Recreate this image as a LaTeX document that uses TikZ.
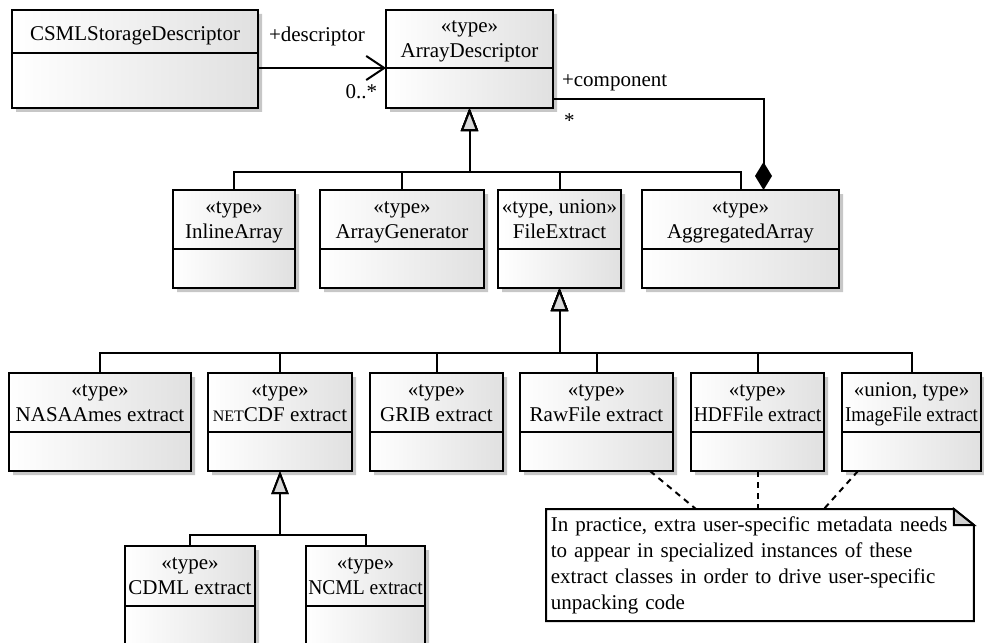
\documentclass[tikz,border=0pt]{standalone}
\usepackage{graphicx}
\usepackage{fontspec}
\setmainfont{Liberation Serif}
\usetikzlibrary{arrows.meta}
\usetikzlibrary{calc}
\usetikzlibrary{shadows}
\usetikzlibrary{shapes.multipart}

% class box: width, name part height, attribute part height, text
\newcommand{\classtext}[4]{%
  \parbox[c][#2][t]{#1}{\centering\rule{0pt}{11pt}#4}%
  \nodepart{second}\parbox[c][#3]{#1}{}}

\begin{document}
\begin{tikzpicture} [
        x = 0.5pt,
        y = -0.5pt,
        font = \fontsize{10.5}{12.5}\selectfont,
        umlclass/.style = {
          rectangle split,
          rectangle split parts = 2,
          draw,
          line width = 1pt,
          inner sep = 0pt,
          outer sep = 0pt,
          anchor = north west,
          left color = white,
          right color = black!12,
          drop shadow = {shadow xshift = 2pt, shadow yshift = -2pt,
                         fill = black!22, opacity = 1},
        },
        notebox/.style = {
          anchor = north west,
          align = left,
          text width = 209pt,
          inner xsep = 2.25pt,
          inner ysep = 3.5pt,
          font = \fontsize{10.5}{13}\selectfont,
        },
        noteline/.style = {
          draw,
          line width = 1pt,
        },
        role/.style = {
          inner sep = 0pt,
        },
        assoc/.style = {
          draw,
          line width = 1pt,
          -{Straight Barb[length = 9pt, width = 12pt]},
        },
        inherit/.style = {
          draw,
          line width = 1pt,
          -{Triangle[length = 11.5pt, width = 8.5pt, fill = black!15]},
        },
        compose/.style = {
          draw,
          line width = 1pt,
          -{Diamond[length = 14pt, width = 8.5pt]},
        },
        notelink/.style = {
          draw,
          line width = 1pt,
          dash pattern = on 3pt off 2.5pt,
        },
      ]
    \useasboundingbox (0,0) rectangle (984,642);

    % top row
    \node [umlclass] at (12,10) (csml)
      {\classtext{123pt}{20.5pt}{26.5pt}{\rule{0pt}{15pt}CSMLStorageDescriptor}};
    \node [umlclass] at (386,10) (arrDesc)
      {\classtext{83.5pt}{28pt}{19pt}{«type»\\ArrayDescriptor}};

    % array kinds
    \node [umlclass] at (173,190) (inlineArr)
      {\classtext{61pt}{28.5pt}{18.5pt}{«type»\\InlineArray}};
    \node [umlclass] at (320,190) (arrGen)
      {\classtext{82pt}{28.5pt}{18.5pt}{«type»\\ArrayGenerator}};
    \node [umlclass] at (498,190) (fileExt)
      {\classtext{61.5pt}{28.5pt}{18.5pt}{«type, union»\\FileExtract}};
    \node [umlclass] at (642,190) (aggArr)
      {\classtext{98.5pt}{28.5pt}{18.5pt}{«type»\\AggregatedArray}};

    % file extracts
    \node [umlclass] at (9,373) (nasaExt)
      {\classtext{91pt}{28.5pt}{18.5pt}{«type»\\NASAAmes extract}};
    \node [umlclass] at (208,373) (netcdfExt)
      {\classtext{72pt}{28.5pt}{18.5pt}{«type»\\{\fontsize{8}{9}\selectfont NET}CDF extract}};
    \node [umlclass] at (370,373) (gribExt)
      {\classtext{66.5pt}{28.5pt}{18.5pt}{«type»\\GRIB extract}};
    \node [umlclass] at (520,373) (rawExt)
      {\classtext{76.5pt}{28.5pt}{18.5pt}{«type»\\RawFile extract}};
    \node [umlclass] at (691,373) (hdfExt)
      {\classtext{66.5pt}{28.5pt}{18.5pt}{«type»\\\scalebox{0.93}[1]{HDFFile extract}}};
    \node [umlclass] at (842,373) (imageExt)
      {\classtext{69.5pt}{28.5pt}{18.5pt}{«union, type»\\\scalebox{0.9}[1]{ImageFile extract}}};

    % netcdf variants
    \node [umlclass] at (125,546) (cdmlExt)
      {\classtext{65pt}{29pt}{18pt}{«type»\\CDML extract}};
    \node [umlclass] at (306,546) (ncmlExt)
      {\classtext{59.5pt}{29pt}{18pt}{«type»\\\scalebox{0.93}[1]{NCML extract}}};

    % note
    \node [notebox] at (546,509) (note) {In practice, extra user-specific metadata needs\\to appear in specialized instances of these\\extract classes in order to drive user-specific\\unpacking code};
    \draw [noteline] (note.north west) -- ([xshift = -10pt]note.north east)
      -- ([yshift = -8pt]note.north east) -- (note.south east) -- (note.south west) -- cycle;
    \draw [noteline, fill = black!18] ([xshift = -10pt]note.north east)
      |- ([yshift = -8pt]note.north east) -- cycle;

    % associations
    \draw[assoc] (csml.east |- arrDesc.text split west) -- (arrDesc.text split west)
      node [role, anchor = base west, pos = 0, xshift = 5pt, yshift = 13pt] (descrRole) {+descriptor}
      node [role, anchor = base east, pos = 1, xshift = -4pt, yshift = -15pt] (descrMult) {0..*};
    \draw[compose] ([yshift = 4.5pt]arrDesc.south east) -| ([xshift = 11.5pt]aggArr.north)
      node [role, anchor = base west, pos = 0, xshift = 4pt, yshift = 6pt] (compRole) {+component}
      node [role, anchor = base west, pos = 0, xshift = 5pt, yshift = -14pt] (compMult) {*};

    % generalizations
    \foreach \c in {inlineArr, arrGen, fileExt, aggArr}
      \draw[inherit] (\c.north) -- ++(0,-18) -| (arrDesc.south);
    \foreach \c in {nasaExt, netcdfExt, gribExt, rawExt, hdfExt, imageExt}
      \draw[inherit] (\c.north) -- ++(0,-20) -| (fileExt.south);
    \foreach \c in {cdmlExt, ncmlExt}
      \draw[inherit] (\c.north) -- ++(0,-11) -| (netcdfExt.south);

    % note links
    \draw[notelink] ([xshift = -11.5pt]rawExt.south east) -- ([xshift = -32pt]note.north);
    \draw[notelink] (hdfExt.south) -- (hdfExt.south |- note.north);
    \draw[notelink] ([xshift = 8pt]imageExt.south west) -- ([xshift = 32pt]note.north);
  \end{tikzpicture}
\end{document}
